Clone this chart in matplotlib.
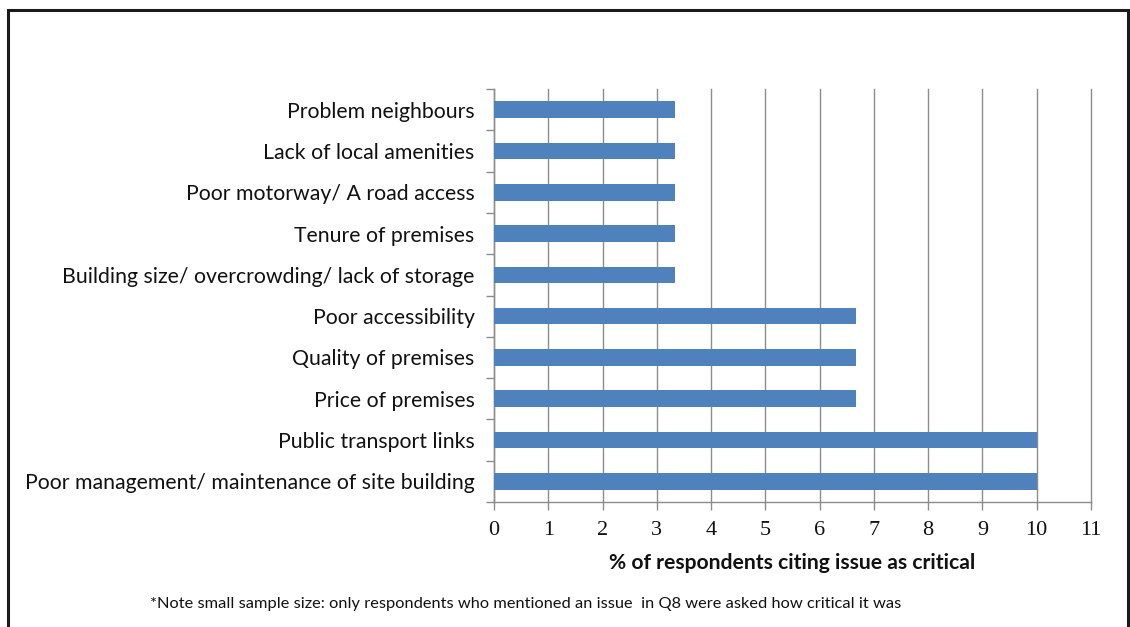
import matplotlib
matplotlib.use("Agg")
import matplotlib.pyplot as plt
from matplotlib.patches import Rectangle
from matplotlib.ticker import FixedLocator

# Issues (listed bottom to top) and share of respondents citing each as critical
issues = [
    "Poor management/ maintenance of site building",
    "Public transport links",
    "Price of premises",
    "Quality of premises",
    "Poor accessibility",
    "Building size/ overcrowding/ lack of storage",
    "Tenure of premises",
    "Poor motorway/ A road access",
    "Lack of local amenities",
    "Problem neighbours",
]
percent = [10.0, 10.0, 6.67, 6.67, 6.67, 3.33, 3.33, 3.33, 3.33, 3.33]
x_ticks = list(range(0, 12))
x_label = "% of respondents citing issue as critical"
note = ("*Note small sample size: only respondents who mentioned an issue  in Q8 "
        "were asked how critical it was")

W, H = 1130, 627
plt.rcParams["font.family"] = ["Lato", "DejaVu Sans"]
TXT = "#111111"
GRID = "#8c8c8c"

fig = plt.figure(figsize=(W / 100, H / 100), dpi=100)
fig.patch.set_facecolor("white")
ax = fig.add_axes([494 / W, 1 - 502 / H, (1091 - 494) / W, (502 - 89) / H])

ypos = list(range(len(issues)))
ax.barh(ypos, percent, height=0.4, color="#4F81BD", zorder=3)

ax.set_xlim(0, 11)
ax.set_ylim(-0.5, len(issues) - 0.5)
ax.set_xticks(x_ticks)
ax.set_xticklabels([str(t) for t in x_ticks], fontsize=16, color=TXT,
                   family=["Liberation Serif", "DejaVu Serif"])
ax.set_yticks(ypos)
ax.set_yticklabels(issues, fontsize=15.35, color=TXT)
ax.yaxis.set_minor_locator(FixedLocator([i - 0.5 for i in range(len(issues) + 1)]))
ax.tick_params(axis="y", which="major", length=0, pad=14)
ax.tick_params(axis="y", which="minor", length=6, width=1, color=GRID)
ax.tick_params(axis="x", which="major", length=6, width=1, color=GRID, pad=8)

ax.grid(axis="x", color=GRID, linewidth=1.0, zorder=0)
for gl in ax.get_xgridlines():
    gl.set_clip_on(False)
ax.set_axisbelow(True)
for side in ("top", "right"):
    ax.spines[side].set_visible(False)
for side in ("left", "bottom"):
    ax.spines[side].set_color(GRID)
    ax.spines[side].set_linewidth(1.0)

ax.set_xlabel(x_label, fontsize=15.2, fontweight="bold", color=TXT, labelpad=9)

fig.text(526 / W, 1 - 604 / H, note, ha="center", va="center", fontsize=11.8, color=TXT)

# Frame around the chart area (open at the bottom edge of the image)
fig.patches.append(Rectangle((7.5 / W, -0.05), (1127.5 - 7.5) / W, 1.05 - 9.5 / H,
                             transform=fig.transFigure, fill=False,
                             edgecolor="#1a1a1a", linewidth=2.2, clip_on=False))

fig.savefig("out.png", dpi=100)
